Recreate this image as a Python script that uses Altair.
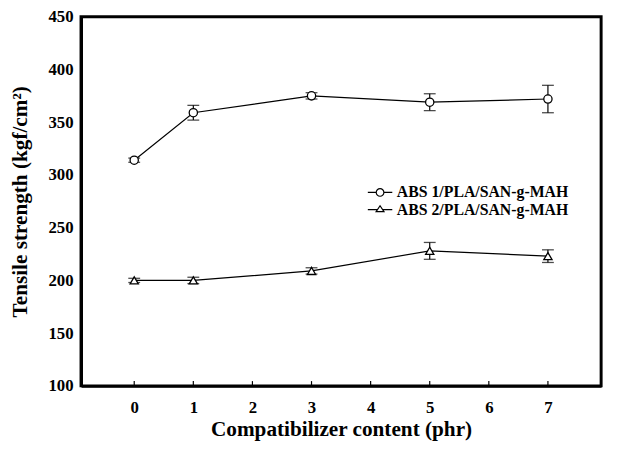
import altair as alt
import pandas as pd

x_vals = [0, 1, 3, 5, 7]
series_names = ["ABS 1/PLA/SAN-g-MAH", "ABS 2/PLA/SAN-g-MAH"]
abs1_mean = [314, 359, 375, 369, 372]
abs1_err = [2, 7, 3, 8, 13]
abs2_mean = [200, 200, 209, 228, 223]
abs2_err = [2, 3, 3, 8, 6]
x_ticks = [0, 1, 2, 3, 4, 5, 6, 7]
y_ticks = [100, 150, 200, 250, 300, 350, 400, 450]

rows = []
for name, means, errs in [(series_names[0], abs1_mean, abs1_err), (series_names[1], abs2_mean, abs2_err)]:
    for x, m, e in zip(x_vals, means, errs):
        rows.append({"x": x, "y": m, "lo": m - e, "hi": m + e, "series": name})
df = pd.DataFrame(rows)
tick_df = pd.DataFrame({"x": x_ticks, "y0": [100] * len(x_ticks), "y1": [104.5] * len(x_ticks)})

FONT = "Liberation Serif"
xs = alt.Scale(domain=[-0.9, 7.9], nice=False, zero=False)
ys = alt.Scale(domain=[100, 450], nice=False, zero=False)

xaxis = alt.Axis(values=x_ticks, title="Compatibilizer content (phr)", grid=False, ticks=False,
                 labelPadding=14, titlePadding=3, titleFontSize=21.5, format="d")
yaxis = alt.Axis(values=y_ticks, title="Tensile strength (kgf/cm²)", grid=False, ticks=False,
                 labelPadding=8, titlePadding=17, titleFontSize=21.5, format="d")

# legend symbols: short line through the marker (custom symbol paths)
circ_leg = "M-3.2,0H-1M1,0H3.2M1,0A1,1,0,1,1,-1,0A1,1,0,1,1,1,0Z"
tri_leg = "M-3.2,0H-0.68M0.68,0H3.2M0,-1.03L1.03,0.52L-1.03,0.52Z"

base = alt.Chart(df)

lines = base.mark_line(color="black", strokeWidth=1.2).encode(
    x=alt.X("x:Q", scale=xs, axis=xaxis),
    y=alt.Y("y:Q", scale=ys, axis=yaxis),
    detail="series:N",
)
err = base.mark_rule(color="black", strokeWidth=1.2).encode(
    x="x:Q", y="lo:Q", y2="hi:Q"
)
cap_lo = base.mark_tick(color="black", orient="horizontal", size=12, thickness=1.3).encode(
    x="x:Q", y="lo:Q"
)
cap_hi = base.mark_tick(color="black", orient="horizontal", size=12, thickness=1.3).encode(
    x="x:Q", y="hi:Q"
)
points = base.mark_point(filled=False, color="black", stroke="black", fill="white", fillOpacity=1,
                         strokeWidth=1.3, size=70, opacity=1).encode(
    x="x:Q", y="y:Q",
    shape=alt.Shape("series:N", scale=alt.Scale(domain=series_names, range=["circle", "triangle-up"]),
                    legend=None),
)
# legend-only layer (no rows drawn), gives line+marker legend symbols
legend_layer = base.transform_filter("datum.x < -100").mark_point(
    filled=False, color="black", strokeWidth=1.2, opacity=1
).encode(
    x="x:Q", y="y:Q",
    shape=alt.Shape("series:N", scale=alt.Scale(domain=series_names, range=[circ_leg, tri_leg]),
                    legend=alt.Legend(title=None, orient="none", legendX=295, legendY=170,
                                      labelFont=FONT, labelFontSize=16, labelFontWeight="bold",
                                      labelColor="black", labelLimit=0,
                                      symbolSize=60, symbolStrokeColor="black",
                                      symbolStrokeWidth=1.2, symbolOpacity=1,
                                      rowPadding=1.5, labelOffset=9)),
)
xticks = alt.Chart(tick_df).mark_rule(color="black", strokeWidth=1.2).encode(
    x="x:Q", y="y0:Q", y2="y1:Q"
)

chart = alt.layer(xticks, lines, err, cap_lo, cap_hi, points, legend_layer).resolve_scale(
    shape="independent"
).properties(
    width=527, height=374,
    autosize=alt.AutoSizeParams(type="none"),
    padding={"left": 74, "top": 6, "right": 9, "bottom": 54},
    background="white",
).configure_view(
    stroke="black", strokeWidth=3
).configure_axis(
    domainColor="black", domainWidth=3,
    labelFont=FONT, labelFontSize=17, labelFontWeight="bold", labelColor="black",
    titleFont=FONT, titleFontWeight="bold", titleColor="black",
)

chart.save("out.html", embed_options={"renderer": "svg", "actions": False})
